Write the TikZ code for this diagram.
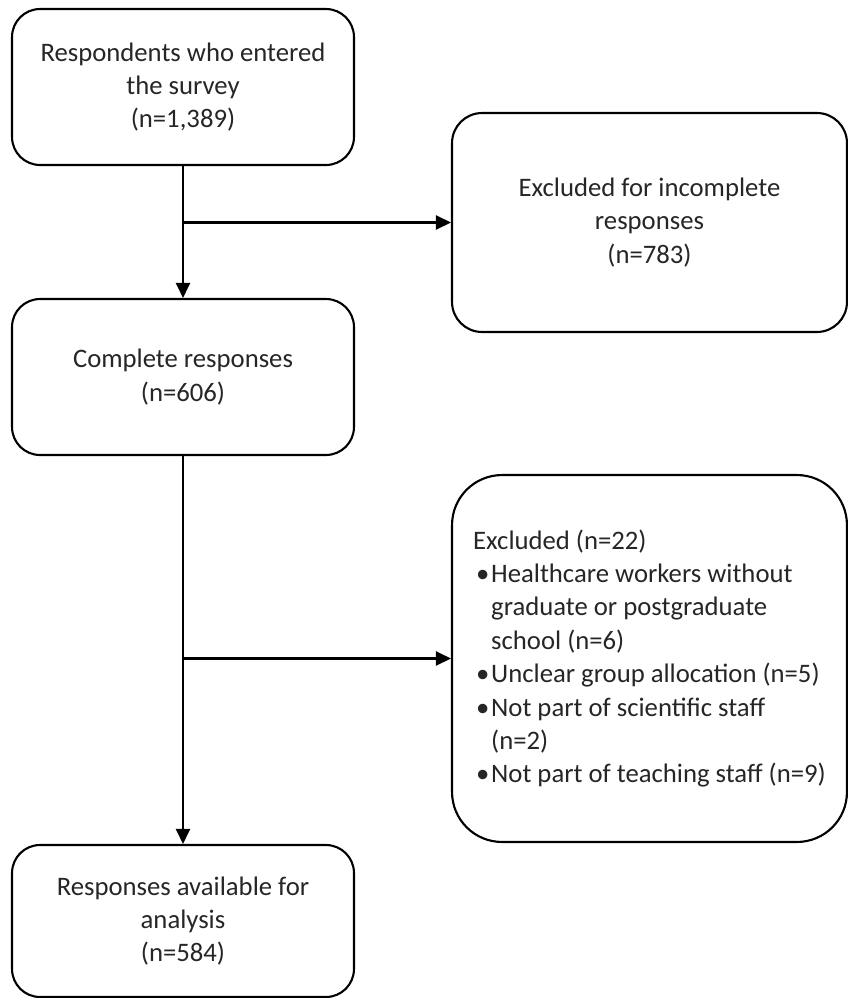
\documentclass[tikz,border=0pt]{standalone}
\usepackage{fontspec}
\setmainfont{Carlito}
\usepackage{tikz}
\usetikzlibrary{arrows.meta,calc,positioning}

\tikzset{
  box/.style={draw, line width=1.2pt, rounded corners=0.56cm, align=center,
    minimum width=6.84cm, minimum height=3.12cm, inner sep=0pt,
    font=\fontsize{15.2}{19}\selectfont, text=black!85},
  sidebox/.style={box, minimum width=7.9cm},
  flow/.style={line width=1.2pt, -{Triangle[length=0.3cm,width=0.28cm]}}
}
\newcommand{\bul}{\makebox[0.36cm][l]{\hspace*{0.06cm}\textbullet}}
\newcommand{\ind}{\hspace*{0.36cm}}

\begin{document}
\begin{tikzpicture}[x=0.02cm,y=-0.02cm]
\useasboundingbox (0,0) rectangle (848,998);

\node[box] (resp) at (183,87) {Respondents who entered\\the survey\\(n=1,389)};
\node[sidebox, minimum height=4.38cm, rounded corners=0.6cm] (incompl) at (649.5,222.5)
  {Excluded for incomplete\\responses\\(n=783)};
\node[box] (compl) at (183,377) {Complete responses\\(n=606)};
\node[sidebox, minimum height=7.34cm, rounded corners=1cm, align=left] (excl) at (649.5,658.5)
  {Excluded (n=22)\\
   \bul Healthcare workers without\\
   \ind graduate or postgraduate\\
   \ind school (n=6)\\
   \bul Unclear group allocation (n=5)\\
   \bul Not part of scientific staff\\
   \ind (n=2)\\
   \bul Not part of teaching staff (n=9)};
\node[box, minimum height=3.04cm] (avail) at (183,921) {Responses available for\\analysis\\(n=584)};

% main flow
\draw[flow] (resp) -- (compl);
\draw[flow] (compl) -- (avail);
% exclusions
\coordinate (split1) at (resp.south |- incompl.west);
\coordinate (split2) at (compl.south |- excl.west);
\draw[flow] (split1) -- (incompl.west);
\draw[flow] (split2) -- (excl.west);
\end{tikzpicture}
\end{document}
